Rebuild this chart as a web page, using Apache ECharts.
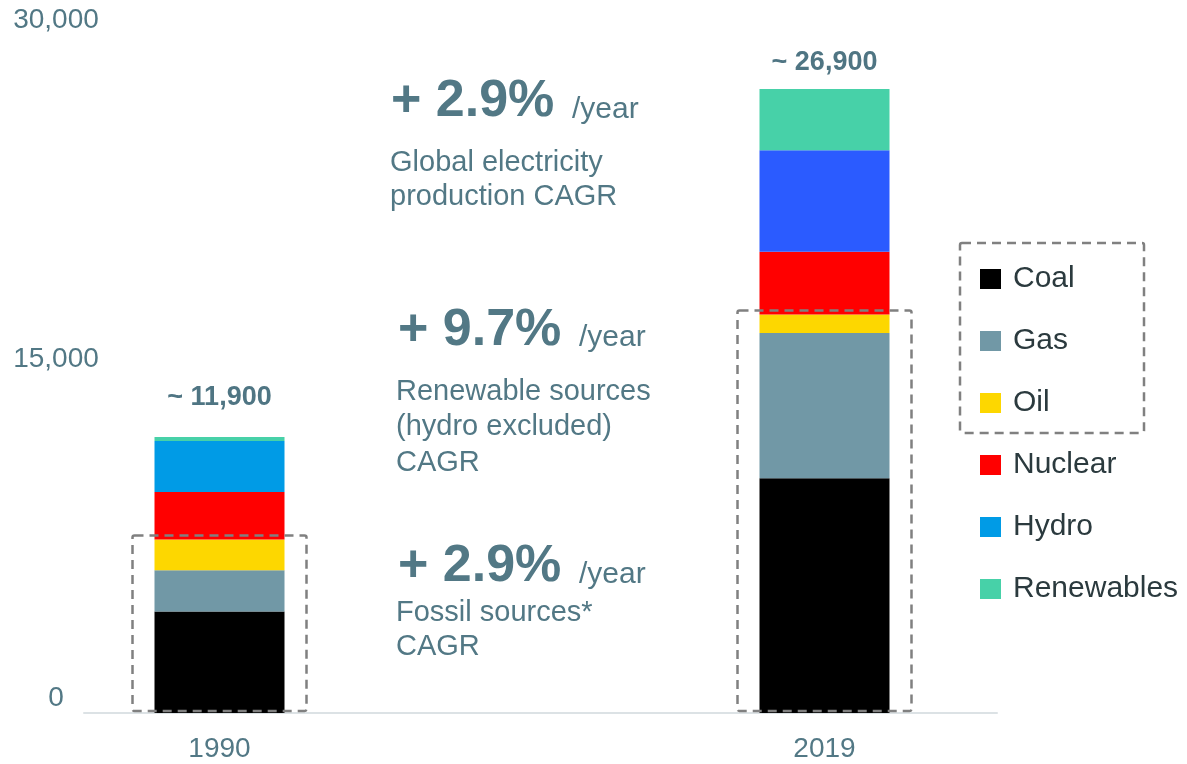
<!DOCTYPE html>
<html>
<head>
<meta charset="utf-8">
<title>Global electricity production by source</title>
<script src="https://cdn.jsdelivr.net/npm/echarts@6/dist/echarts.min.js"></script>
<style>
  html, body { margin: 0; padding: 0; background: #ffffff; }
  #chart { width: 1187px; height: 764px; }
</style>
</head>
<body>
<div id="chart"></div>
<script>
// Electricity production by source (TWh)
const years = ['1990', '2019'];
const coal = [4370, 10120];
const gas = [1780, 6260];
const oil = [1330, 800];
const nuclear = [2050, 2700];
const hydro = [2190, 4380];
const renewables = [180, 2640];
const yTicks = [0, 15000, 30000];

// Growth call-outs shown between the two bars
const growthRates = ['+ 2.9%', '+ 9.7%', '+ 2.9%'];
const growthUnit = '/year';
const growthNotes = [
  ['Global electricity', 'production CAGR'],
  ['Renewable sources', '(hydro excluded)', 'CAGR'],
  ['Fossil sources*', 'CAGR']
];

const FONT = '"Liberation Sans", Arial, Helvetica, sans-serif';
const SLATE = '#527885';
const LEGEND_TEXT = '#2b3a3e';
const DASH = '#808080';

const totals = years.map((_, i) =>
  coal[i] + gas[i] + oil[i] + nuclear[i] + hydro[i] + renewables[i]);
const fossil = years.map((_, i) => coal[i] + gas[i] + oil[i]);

const fmt = v => Number(v).toLocaleString('en-US');

// per-bar styling
const hydroBarColors = ['#009be6', '#2b5bff'];
const totalLabelGap = [26, 13];

function stackSeries(name, values, color, itemFn) {
  return {
    type: 'bar',
    name: name,
    stack: 'total',
    xAxisIndex: 0,
    yAxisIndex: 0,
    barWidth: 130,
    clip: false,
    itemStyle: { color: color },
    emphasis: { disabled: true },
    data: values.map((v, i) => {
      const item = { value: v };
      return itemFn ? itemFn(item, i) : item;
    })
  };
}

const series = [
  stackSeries('Coal', coal, '#000000'),
  stackSeries('Gas', gas, '#7198a6'),
  stackSeries('Oil', oil, '#fdd700'),
  stackSeries('Nuclear', nuclear, '#ff0000'),
  stackSeries('Hydro', hydro, hydroBarColors[0], (item, i) => {
    item.itemStyle = { color: hydroBarColors[i] };
    return item;
  }),
  stackSeries('Renewables', renewables, '#47d1a8', (item, i) => {
    item.label = {
      show: true,
      position: 'top',
      distance: totalLabelGap[i],
      formatter: () => '~ ' + fmt(totals[i]),
      fontFamily: FONT,
      fontSize: 27,
      fontWeight: 'bold',
      color: '#4f7583'
    };
    return item;
  }),
  // dashed frame around the fossil part of each bar
  {
    type: 'custom',
    name: 'Fossil',
    xAxisIndex: 0,
    yAxisIndex: 0,
    z: 5,
    silent: true,
    clip: false,
    data: years.map((_, i) => [i, fossil[i]]),
    renderItem: (params, api) => {
      const top = api.coord([api.value(0), api.value(1)]);
      const base = api.coord([api.value(0), 0]);
      const half = 87;
      return {
        type: 'rect',
        shape: { x: top[0] - half, y: top[1] - 4, width: half * 2, height: base[1] - top[1] + 2, r: 2 },
        style: { fill: 'none', stroke: DASH, lineWidth: 2.5, lineDash: [9, 6] }
      };
    }
  }
];

// text graphics placed by baseline
function textAt(x, baseline, text, size, weight) {
  return {
    type: 'text',
    x: x,
    y: baseline - 0.3465 * size,
    silent: true,
    style: {
      text: text,
      fontFamily: FONT,
      fontSize: size,
      fontWeight: weight || 'normal',
      fill: SLATE,
      align: 'left',
      verticalAlign: 'middle'
    }
  };
}

const blockLayout = [
  { rateX: 391, unitX: 572, noteX: 390, rateBase: 120, noteBase: [173.3, 207.3] },
  { rateX: 398, unitX: 579, noteX: 396, rateBase: 348.3, noteBase: [401.7, 437.5, 473] },
  { rateX: 398, unitX: 579, noteX: 396, rateBase: 585, noteBase: [623.3, 656.7] }
];

const graphics = [];
growthRates.forEach((rate, k) => {
  const L = blockLayout[k];
  graphics.push(textAt(L.rateX, L.rateBase, rate, 52, 'bold'));
  graphics.push(textAt(L.unitX, L.rateBase, growthUnit, 30));
  growthNotes[k].forEach((line, j) => {
    graphics.push(textAt(L.noteX, L.noteBase[j], line, 29));
  });
});
// dashed frame around the fossil legend entries
graphics.push({
  type: 'rect',
  silent: true,
  shape: { x: 960, y: 243, width: 184, height: 190, r: 2 },
  style: { fill: 'none', stroke: DASH, lineWidth: 2.5, lineDash: [9, 6] },
  z: 10
});

const chart = echarts.init(document.getElementById('chart'), null, { renderer: 'canvas' });
chart.setOption({
  animation: false,
  backgroundColor: '#ffffff',
  textStyle: { fontFamily: FONT },
  grid: [
    // bar grid: the two category ticks sit on the grid edges
    { left: 219.5, right: 362.5, top: 17, bottom: 51 },
    // value-label grid
    { left: 84, right: 190, top: 20, bottom: 66 },
    // baseline grid
    { left: 84, right: 190, top: 17, bottom: 51 }
  ],
  xAxis: [
    {
      type: 'category',
      gridIndex: 0,
      data: years,
      boundaryGap: false,
      axisLine: { show: false },
      axisTick: { show: false },
      splitLine: { show: false },
      axisLabel: {
        fontFamily: FONT,
        fontSize: 28,
        color: SLATE,
        margin: 22
      }
    },
    { type: 'value', gridIndex: 1, show: false, min: 0, max: 1 },
    {
      type: 'value',
      gridIndex: 2,
      min: 0,
      max: 1,
      axisLine: { show: true, lineStyle: { color: '#dce2e5', width: 2 } },
      axisTick: { show: false },
      axisLabel: { show: false },
      splitLine: { show: false }
    }
  ],
  yAxis: [
    { type: 'value', gridIndex: 0, min: 0, max: 30000, show: false },
    {
      type: 'value',
      gridIndex: 1,
      min: yTicks[0],
      max: yTicks[yTicks.length - 1],
      interval: yTicks[1] - yTicks[0],
      axisLine: { show: false },
      axisTick: { show: false },
      splitLine: { show: false },
      axisLabel: {
        formatter: v => fmt(v),
        fontFamily: FONT,
        fontSize: 28,
        color: SLATE,
        align: 'center',
        margin: 28
      }
    },
    { type: 'value', gridIndex: 2, min: 0, max: 1, show: false }
  ],
  legend: {
    data: ['Coal', 'Gas', 'Oil', 'Nuclear', 'Hydro', 'Renewables'],
    orient: 'vertical',
    left: 975,
    top: 259,
    itemWidth: 21,
    itemHeight: 20,
    itemGap: 32,
    icon: 'rect',
    selectedMode: false,
    textStyle: {
      fontFamily: FONT,
      fontSize: 30,
      color: LEGEND_TEXT,
      padding: [0, 0, 0, 7]
    }
  },
  graphic: graphics,
  series: series
});
</script>
</body>
</html>
